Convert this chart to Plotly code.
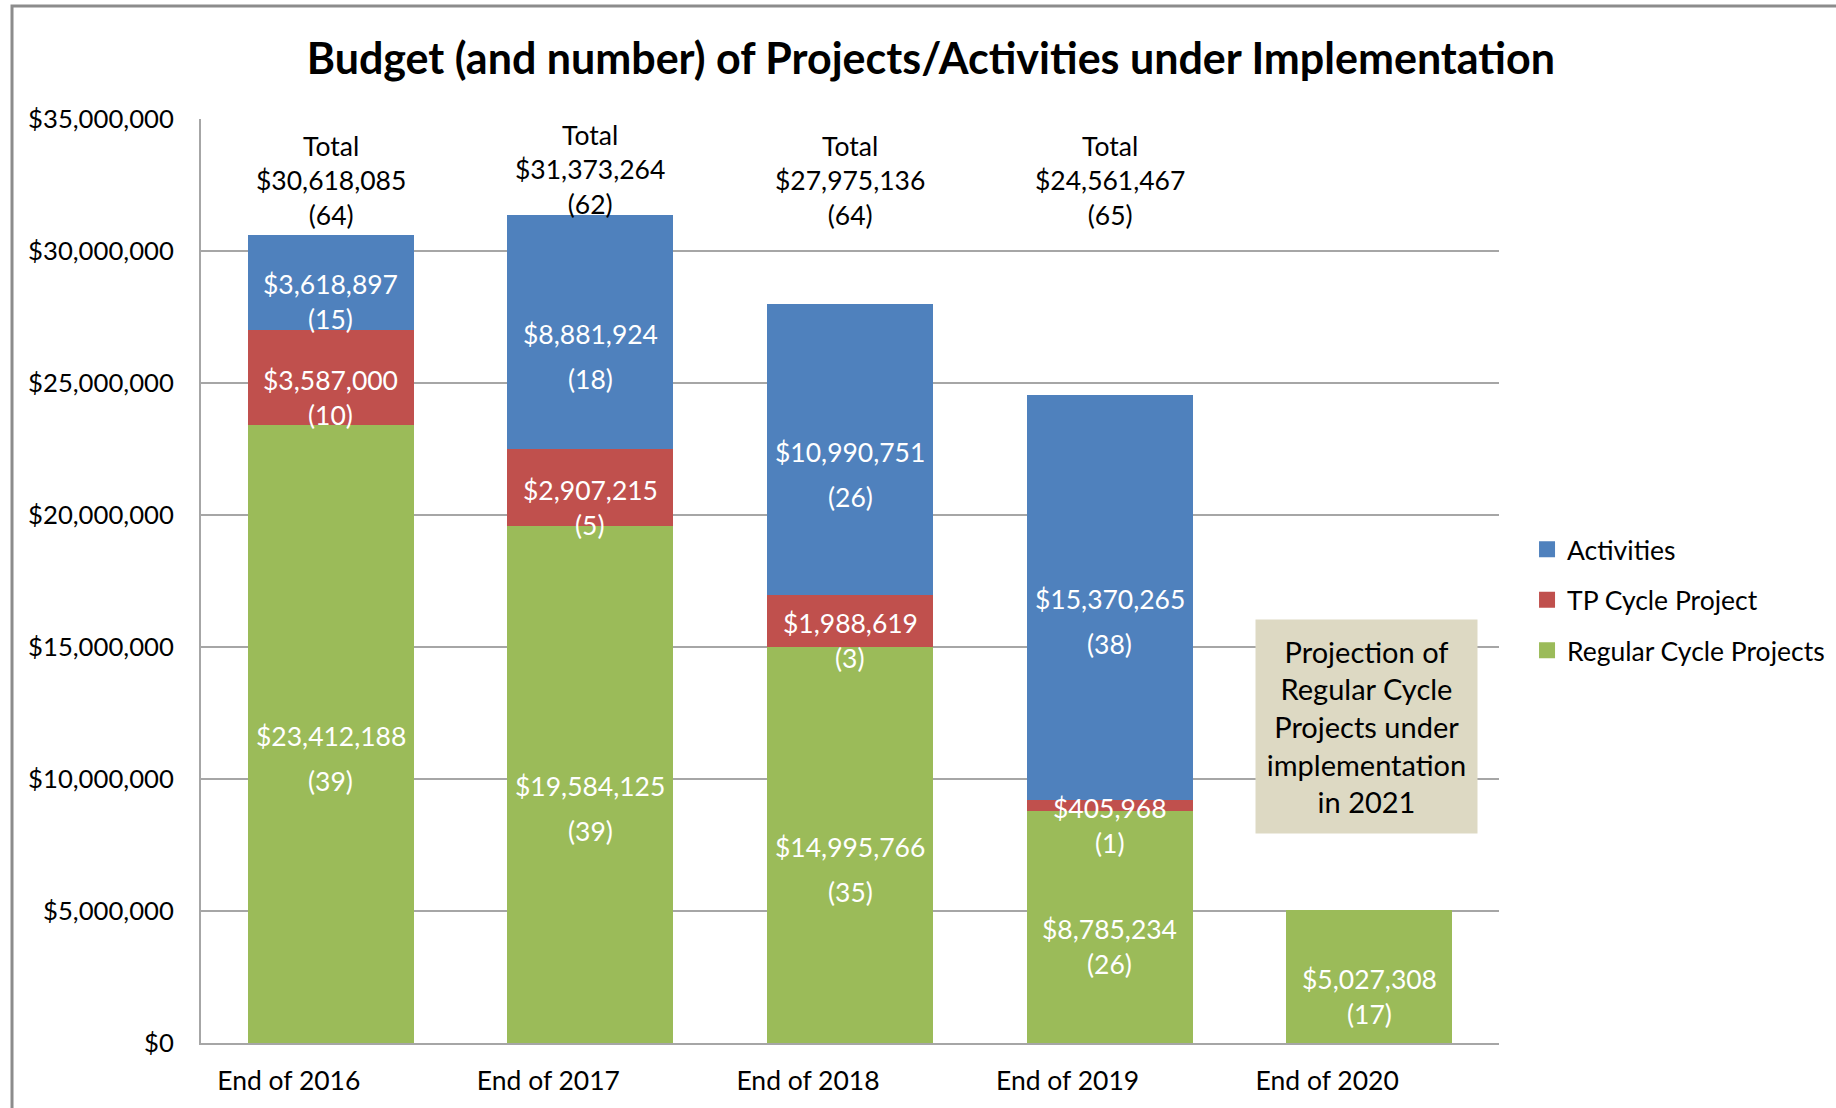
import plotly.graph_objects as go

categories = ["End of 2016", "End of 2017", "End of 2018", "End of 2019", "End of 2020"]
regular_budget = [23412188, 19584125, 14995766, 8785234, 5027308]
regular_count = [39, 39, 35, 26, 17]
tp_budget = [3587000, 2907215, 1988619, 405968, None]
tp_count = [10, 5, 3, 1, None]
activities_budget = [3618897, 8881924, 10990751, 15370265, None]
activities_count = [15, 18, 26, 38, None]
show_total = [True, True, True, True, False]
y_ticks = [0, 5000000, 10000000, 15000000, 20000000, 25000000, 30000000, 35000000]
note_text = "Projection of<br>Regular Cycle<br>Projects under<br>implementation<br>in 2021"

FONT = "Lato"
BLUE, RED, GREEN = "#4F81BD", "#C0504D", "#9BBB59"
GRID = "#A6A6A6"

fig = go.Figure()
series = [
    ("Regular Cycle Projects", regular_budget, regular_count, GREEN),
    ("TP Cycle Project", tp_budget, tp_count, RED),
    ("Activities", activities_budget, activities_count, BLUE),
]
for name, vals, _, col in series:
    fig.add_trace(go.Bar(
        x=categories, y=vals, name=name, marker=dict(color=col, line=dict(width=0)),
        legendgroup=name, textposition="none", hoverinfo="x+y+name", showlegend=False,
    ))
# legend entries (square swatches), top to bottom: Activities, TP, Regular
for name, _, _, col in reversed(series):
    fig.add_trace(go.Scatter(
        x=[None], y=[None], mode="markers", name=name, legendgroup=name,
        marker=dict(symbol="square", size=16, color=col), showlegend=True,
    ))

annotations = []
base = [0] * len(categories)
for name, vals, counts, col in series:
    for i, (v, c) in enumerate(zip(vals, counts)):
        if v is None:
            continue
        mid = base[i] + v / 2
        gap = 45 if v >= 8800000 else 35
        annotations.append(dict(
            x=categories[i], y=mid, xref="x", yref="y",
            text=f"${v:,}", showarrow=False,
            font=dict(family=FONT, size=26.5, color="white"),
            yanchor="middle", yshift=-2,
        ))
        annotations.append(dict(
            x=categories[i], y=mid, xref="x", yref="y",
            text=f"({c})", showarrow=False,
            font=dict(family=FONT, size=26.5, color="white"),
            yanchor="middle", yshift=-2 - gap,
        ))
        base[i] += v

for i, cat in enumerate(categories):
    if not show_total[i]:
        continue
    total = base[i]
    n = sum(s[2][i] for s in series if s[2][i] is not None)
    annotations.append(dict(
        x=cat, y=max(total - 265000, 30700000), xref="x", yref="y",
        text=f"Total<br>${total:,}<br>({n})", showarrow=False,
        font=dict(family=FONT, size=26.5, color="black"),
        yanchor="bottom",
    ))

annotations.append(dict(
    x=categories[-1], y=12000000, xref="x", yref="y",
    text=note_text, showarrow=False,
    font=dict(family=FONT, size=29, color="black"),
    bgcolor="#DDD9C3", width=219, height=211, align="center",
    xanchor="center", yanchor="middle", xshift=-3,
))

fig.update_layout(
    barmode="stack",
    bargap=0.36,
    width=1836, height=1108,
    margin=dict(l=201, r=337, t=119, b=65, autoexpand=False),
    paper_bgcolor="white", plot_bgcolor="white",
    font=dict(family=FONT, size=26, color="black"),
    title=dict(
        text="<b>Budget (and number) of Projects/Activities under Implementation</b>",
        x=0.507, xanchor="center", xref="container", y=0.947, yanchor="middle", yref="container",
        font=dict(family=FONT, size=43, color="black"),
    ),
    legend=dict(
        x=1.0216, xanchor="left", y=0.56, yanchor="top",
        traceorder="grouped", tracegroupgap=13,
        font=dict(family=FONT, size=26.5, color="black"),
        bgcolor="rgba(0,0,0,0)",
    ),
    xaxis=dict(
        type="category", showgrid=False, showline=True, linecolor=GRID, linewidth=2,
        ticks="", ticklabelshift=-42, ticklabelstandoff=13, automargin=False,
        tickfont=dict(family=FONT, size=26.5, color="black"),
    ),
    yaxis=dict(
        range=[0, 35000000], tickvals=y_ticks, tickformat="$,",
        showgrid=True, gridcolor=GRID, gridwidth=2, zeroline=False,
        showline=True, linecolor=GRID, linewidth=2, ticks="", ticklabelstandoff=20,
        automargin=False,
        tickfont=dict(family=FONT, size=25.7, color="black"),
    ),
    annotations=annotations,
    shapes=[dict(
        type="rect", xref="paper", yref="paper",
        x0=-0.1456, x1=1.4, y0=-0.3, y1=1.1223,
        line=dict(color="#8C8C8C", width=3), fillcolor="rgba(0,0,0,0)", layer="below",
    )],
    showlegend=True,
)

fig.write_html(
    "out.html",
    config={"displayModeBar": False},
    post_script="document.body.style.margin='0';",
)
